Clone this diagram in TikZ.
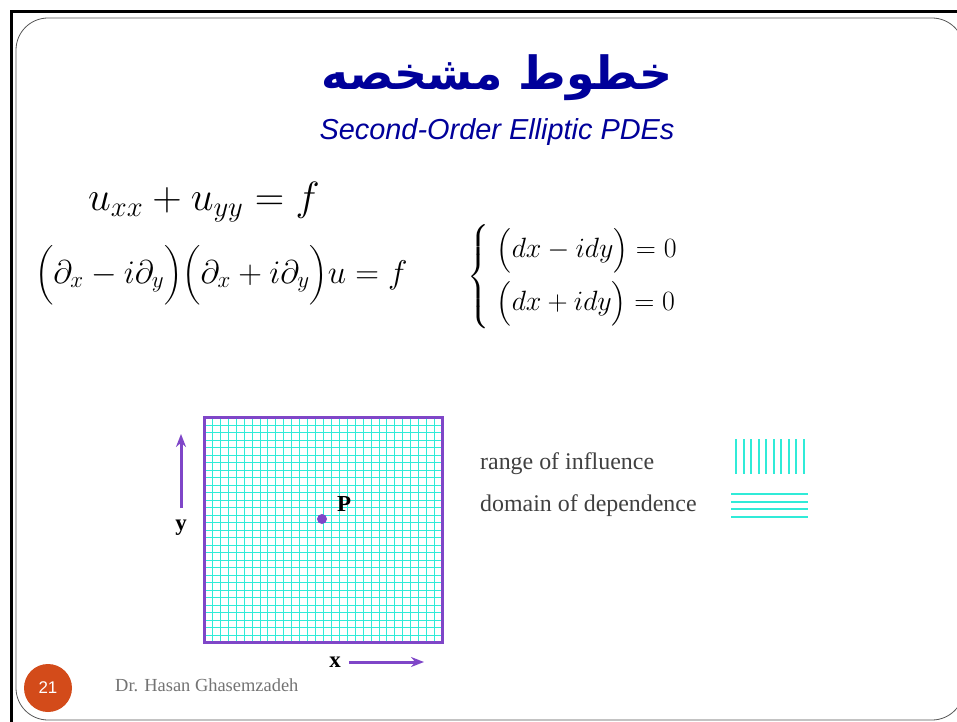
\RequirePackage{fix-cm}
\documentclass[tikz,border=0pt]{standalone}
\usepackage{fontspec}
\setmainfont{Liberation Serif}
\newfontfamily\arabicfont[Script=Arabic]{DejaVu Sans}
\newfontfamily\slidesans{Liberation Sans}
\TeXXeTstate=1
\usepackage{amsmath}
\definecolor{slideblue}{HTML}{00009A}
\definecolor{slidepurple}{HTML}{7F46C8}
\definecolor{slidecyan}{HTML}{30EBD8}
\definecolor{slideorange}{HTML}{D34B1A}
\definecolor{slidegray}{HTML}{555555}
\usetikzlibrary{arrows.meta, positioning}

\tikzset{
  gridline/.style={slidecyan, line width=1bp},
  axisarrow/.style={slidepurple, line width=3bp, -{Stealth[length=13bp, width=10bp]}},
  axislabel/.style={font=\fontsize{23}{26}\selectfont\bfseries, inner sep=0pt},
  legendtext/.style={font=\fontsize{24}{28}\selectfont, text=black!75, anchor=base west, inner sep=0pt}
}

\begin{document}
\begin{tikzpicture}[x=1bp, y=-1bp]
  \clip (0,0) rectangle (957,722);
  \fill[white] (0,0) rectangle (957,722);
  % slide frame
  \draw[black, line width=3bp] (11,730) -- (11,12) -- (970,12);
  \draw[slidegray, line width=0.8bp, rounded corners=32bp] (16,18) rectangle (964,720);

  % title
  \node[text=slideblue, font=\fontsize{46}{54}\selectfont\bfseries] (title) at (497,78)
    {\arabicfont\beginR خطوط مشخصه\endR};
  \node[text=slideblue, anchor=base, inner sep=0pt,
    font=\fontsize{29}{34}\selectfont\slidesans\itshape] (subtitle) at (497,140)
    {Second-Order Elliptic PDEs};

  % equations
  \node[anchor=base west, inner sep=0pt, font=\fontsize{41}{48}\selectfont] (eqone) at (88,210)
    {$u_{xx} + u_{yy} = f$};
  \node[anchor=base west, inner sep=0pt, font=\fontsize{33}{40}\selectfont] (eqtwo) at (35,283)
    {$\Bigl(\partial_x - i\partial_y\Bigr)\Bigl(\partial_x + i\partial_y\Bigr)u = f$};
  \node[anchor=west, inner sep=0pt, font=\fontsize{28}{33}\selectfont] (eqsys) at (467,277)
    {$\left\{\begin{array}{@{\;}l@{}}
      \bigl(dx - idy\bigr) = 0\\[14pt]
      \bigl(dx + idy\bigr) = 0
    \end{array}\right.$};

  % grid box, lines snapped to whole pixels
  \foreach \i in {1,...,29} {
    \pgfmathsetmacro\gx{round(204+\i*238/30)+0.5}
    \pgfmathsetmacro\gy{round(417+\i*225/30)+0.5}
    \draw[gridline] (\gx,417) -- (\gx,642);
    \draw[gridline] (204,\gy) -- (442,\gy);
  }
  \draw[slidepurple, line width=3bp] (204,417) rectangle (442,642);
  \fill[slidepurple] (322,519) circle (5bp);
  \node[axislabel] (plabel) at (344,504) {P};

  % axes
  \coordinate (ytail) at (181,508);
  \coordinate (yhead) at (181,434);
  \draw[axisarrow] (ytail) -- (yhead);
  \node[axislabel] (ylabel) at (181,528) {y};
  \coordinate (xtail) at (349,662);
  \coordinate (xhead) at (424,662);
  \draw[axisarrow] (xtail) -- (xhead);
  \node[axislabel] (xlabel) at (335,662) {x};

  % legend
  \node[legendtext] (influence) at (480,469) {range of influence};
  \node[legendtext] (dependence) at (480,511) {domain of dependence};
  \foreach \i in {0,...,9} {
    \pgfmathsetmacro\lx{round(735+\i*68/9)+0.5}
    \draw[gridline, line width=2bp] (\lx,439) -- (\lx,474);
  }
  \foreach \j in {0,...,3} {
    \pgfmathsetmacro\ly{round(494+\j*7.7)}
    \draw[gridline, line width=2bp] (731,\ly) -- (808,\ly);
  }

  % footer
  \fill[slideorange] (48,688) circle (24bp);
  \node[text=white, font=\fontsize{17}{20}\selectfont\slidesans] (pagenum) at (48,688) {21};
  \node[text=black!55, anchor=base west, inner sep=0pt, font=\fontsize{18.5}{22}\selectfont] (author) at (115,691)
    {Dr. Hasan Ghasemzadeh};
\end{tikzpicture}
\end{document}
